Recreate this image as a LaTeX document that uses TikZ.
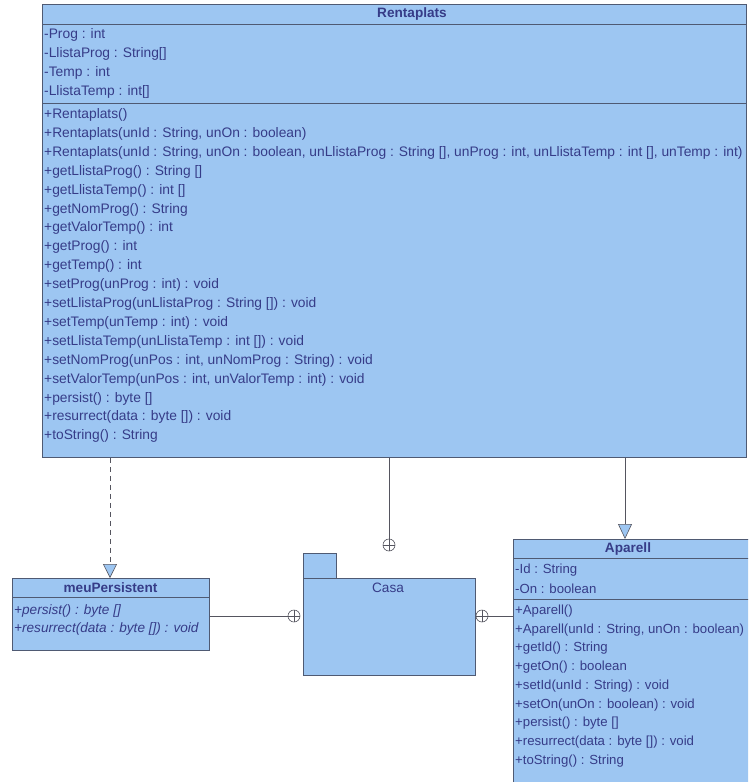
\documentclass[tikz,border=0pt]{standalone}
\usepackage{fontspec}
\setmainfont{Liberation Sans}
\usetikzlibrary{arrows.meta,calc}
\definecolor{boxblue}{HTML}{9DC6F2}
\definecolor{boxline}{HTML}{4F5A73}
\definecolor{txtcol}{HTML}{363C88}
\definecolor{wireline}{HTML}{55555F}
\tikzset{
  umlbox/.style={draw=boxline, fill=boxblue, line width=0.9pt, inner sep=0pt},
  row/.style={anchor=west, inner sep=0pt, text=txtcol, font=\fontsize{13.6}{14}\selectfont},
  brow/.style={row, font=\fontsize{13.8}{14}\selectfont},
  srow/.style={row, font=\fontsize{13.2}{14}\selectfont},
  irow/.style={row, font=\itshape\fontsize{13.6}{14}\selectfont},
  ttl/.style={inner sep=0pt, text=txtcol, font=\bfseries\fontsize{13.6}{14}\selectfont},
  sep/.style={draw=boxline, line width=0.9pt},
  wire/.style={draw=wireline, line width=0.6pt},
  realize/.style={wire, dashed, dash pattern=on 5pt off 4pt,
    -{Triangle[width=14pt,length=14pt,fill=boxblue]}},
  inherit/.style={wire, -{Triangle[width=14pt,length=15pt,fill=boxblue]}},
  nest/.style={circle, draw=wireline, line width=0.6pt, minimum size=12pt, inner sep=0pt,
    path picture={\draw[wireline, line width=0.6pt]
      (path picture bounding box.north) -- (path picture bounding box.south)
      (path picture bounding box.west) -- (path picture bounding box.east);}}
}
\begin{document}
\begin{tikzpicture}[x=1pt,y=-1pt]
\useasboundingbox (0,0) rectangle (748,782);
\clip (0,0) rectangle (748,782);

% ---------- Rentaplats ----------
\node[umlbox, anchor=north west, minimum width=704pt, minimum height=453pt] (rent) at (42,4) {};
\draw[sep] (42,24) -- (746,24);
\draw[sep] (42,103) -- (746,103);
\node[ttl] (rentT) at (412,14) {Rentaplats};
\foreach \t [count=\i from 0] in {
  -Prog : int,
  -LlistaProg : String[],
  -Temp : int,
  -LlistaTemp : int[]}
  \node[brow] (ra\i) at (44,35+19*\i) {\t};
\foreach \t [count=\i from 0] in {
  +Rentaplats(),
  {+Rentaplats(unId : String, unOn : boolean)},
  {+Rentaplats(unId : String, unOn : boolean, unLlistaProg : String [], unProg : int, unLlistaTemp : int [], unTemp : int)},
  +getLlistaProg() : String [],
  +getLlistaTemp() : int [],
  +getNomProg() : String,
  +getValorTemp() : int,
  +getProg() : int,
  +getTemp() : int,
  +setProg(unProg : int) : void,
  +setLlistaProg(unLlistaProg : String []) : void,
  +setTemp(unTemp : int) : void,
  +setLlistaTemp(unLlistaTemp : int []) : void,
  {+setNomProg(unPos : int, unNomProg : String) : void},
  {+setValorTemp(unPos : int, unValorTemp : int) : void},
  +persist() : byte [],
  +resurrect(data : byte []) : void,
  +toString() : String}
  \node[brow] (rm\i) at (44,115+18.9*\i) {\t};

% ---------- meuPersistent ----------
\node[umlbox, anchor=north west, minimum width=197pt, minimum height=72pt] (meu) at (12,578) {};
\draw[sep] (12,597) -- (209,597);
\node[ttl] (meuT) at (110.5,588) {meuPersistent};
\node[irow] (mp0) at (14,611) {+persist() : byte []};
\node[irow] (mp1) at (14,629) {+resurrect(data : byte []) : void};

% ---------- Casa (package) ----------
\node[umlbox, anchor=north west, minimum width=33pt, minimum height=25pt] (tab) at (303,553) {};
\node[umlbox, anchor=north west, minimum width=172pt, minimum height=97pt] (casa) at (303,578) {};
\node[inner sep=0pt, text=txtcol, font=\fontsize{13.6}{14}\selectfont] (casaT) at (388,588) {Casa};

% ---------- Aparell ----------
\node[umlbox, anchor=north west, minimum width=250pt, minimum height=260pt] (apa) at (513,539) {};
\draw[sep] (513,558) -- (763,558);
\draw[sep] (513,599) -- (763,599);
\node[ttl] (apaT) at (628,549) {Aparell};
\foreach \t [count=\i from 0] in {
  -Id : String,
  -On : boolean}
  \node[srow] (aa\i) at (515,570+19*\i) {\t};
\foreach \t [count=\i from 0] in {
  +Aparell(),
  {+Aparell(unId : String, unOn : boolean)},
  +getId() : String,
  +getOn() : boolean,
  +setId(unId : String) : void,
  +setOn(unOn : boolean) : void,
  +persist() : byte [],
  +resurrect(data : byte []) : void,
  +toString() : String}
  \node[srow] (am\i) at (515,611+18.75*\i) {\t};

% ---------- connectors ----------
\coordinate (dTop) at (rent.south -| 110,0);
\coordinate (dEnd) at (110,578);
\draw[realize] (dTop) -- (dEnd);

\node[nest] (n1) at (389,545) {};
\draw[wire] (rent.south -| n1) -- (n1.north);

\coordinate (gTop) at (rent.south -| 625,0);
\coordinate (gEnd) at (625,539);
\draw[inherit] (gTop) -- (gEnd);

\node[nest] (n2) at (294,616) {};
\draw[wire] (meu.east |- n2) -- (n2.west);

\node[nest] (n3) at (482,616) {};
\draw[wire] (n3.east) -- (apa.west |- n3);
\end{tikzpicture}
\end{document}
